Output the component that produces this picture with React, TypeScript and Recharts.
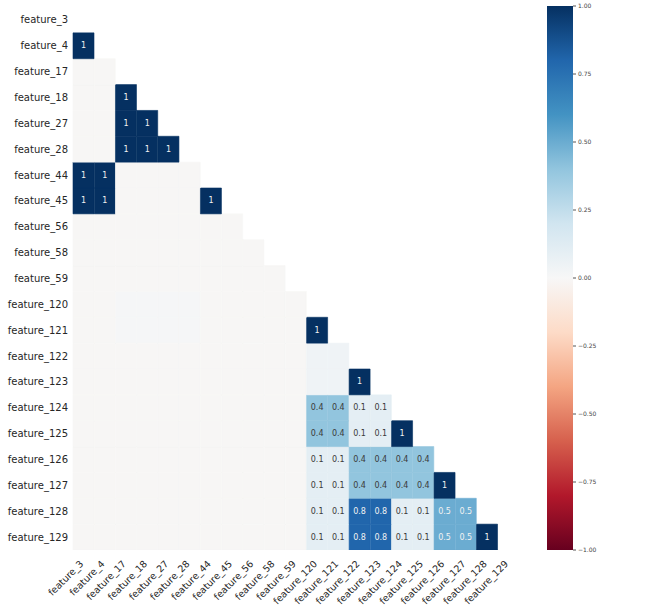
import { Bar, BarChart, Cell, LabelList, XAxis, YAxis } from "recharts";

const features = [
  "feature_3", "feature_4", "feature_17", "feature_18", "feature_27", "feature_28", "feature_44",
  "feature_45", "feature_56", "feature_58", "feature_59", "feature_120", "feature_121", "feature_122",
  "feature_123", "feature_124", "feature_125", "feature_126", "feature_127", "feature_128", "feature_129",
];

// lower triangle of the nullity correlation, row i holds columns 0..i-1
const z = -0.01;
const corrRows: number[][] = [
  [],
  [1],
  [z, z],
  [z, z, 1],
  [z, z, 1, 1],
  [z, z, 1, 1, 1],
  [1, 1, z, z, z, z],
  [1, 1, z, z, z, z, 1],
  [z, z, z, z, z, z, z, z],
  [z, z, z, z, z, z, z, z, z],
  [z, z, z, z, z, z, z, z, z, z],
  [z, z, 0.01, 0.01, 0.01, 0.01, z, z, z, z, z],
  [z, z, 0.01, 0.01, 0.01, 0.01, z, z, z, z, z, 1],
  [z, z, z, z, z, z, z, z, z, z, z, 0.04, 0.04],
  [z, z, z, z, z, z, z, z, z, z, z, 0.04, 0.04, 1],
  [z, z, z, z, z, z, z, z, z, z, z, 0.4, 0.4, 0.1, 0.1],
  [z, z, z, z, z, z, z, z, z, z, z, 0.4, 0.4, 0.1, 0.1, 1],
  [z, z, z, z, z, z, z, z, z, z, z, 0.1, 0.1, 0.4, 0.4, 0.4, 0.4],
  [z, z, z, z, z, z, z, z, z, z, z, 0.1, 0.1, 0.4, 0.4, 0.4, 0.4, 1],
  [z, z, z, z, z, z, z, z, z, z, z, 0.1, 0.1, 0.8, 0.8, 0.1, 0.1, 0.5, 0.5],
  [z, z, z, z, z, z, z, z, z, z, z, 0.1, 0.1, 0.8, 0.8, 0.1, 0.1, 0.5, 0.5, 1],
];

const colorbarTicks = [-1, -0.75, -0.5, -0.25, 0, 0.25, 0.5, 0.75, 1];

// RdBu stops from -1 to 1
const rdbu = [
  "#67001f", "#b2182b", "#d6604d", "#f4a582", "#fddbc7", "#f7f7f7",
  "#d1e5f0", "#92c5de", "#4393c3", "#2166ac", "#053061",
];

function hex(c: string) {
  return [1, 3, 5].map((k) => parseInt(c.slice(k, k + 2), 16));
}

function rdbuColor(v: number) {
  const t = ((Math.max(-1, Math.min(1, v ?? 0)) + 1) / 2) * (rdbu.length - 1);
  const i = Math.min(Math.floor(t), rdbu.length - 2);
  const f = t - i;
  const a = hex(rdbu[i]);
  const b = hex(rdbu[i + 1]);
  const m = a.map((x, k) => Math.round(x + (b[k] - x) * f));
  return `rgb(${m[0]},${m[1]},${m[2]})`;
}

function cellText(v: number) {
  if (v === 1) return "1";
  if (v === -1) return "-1";
  if (v >= 0.95 && v < 1) return "<1";
  if (v <= -0.95 && v > -1) return ">-1";
  if (Math.abs(v) < 0.05) return "";
  return v.toFixed(1);
}

const N = features.length;
// one entry per column; each row is a stacked segment of height 1
const data = features.map((name) => {
  const d: Record<string, number | string> = { name };
  features.forEach((_, i) => (d[`r${i}`] = 1));
  return d;
});
const yTicks = features.map((_, k) => k + 0.5);
const stackOrder = features.map((_, i) => N - 1 - i);

const labelFont = "DejaVu Sans, sans-serif";

function XTick(props: any) {
  const { x, y, payload } = props;
  const ax = x - 2;
  const ay = y + 4;
  return (
    <text
      x={ax}
      y={ay}
      transform={`rotate(-45 ${ax} ${ay})`}
      textAnchor="end"
      dominantBaseline="central"
      fontSize={9.5}
      fontFamily={labelFont}
      fill="#262626"
    >
      {payload.value}
    </text>
  );
}

function Colorbar() {
  return (
    <BarChart
      width={110}
      height={607}
      data={[{ name: "cb", range: [-1, 1] }]}
      margin={{ top: 6, right: 0, bottom: 57, left: 0 }}
      barCategoryGap={0}
    >
      <defs>
        <linearGradient id="rdbuGrad" x1="0" y1="0" x2="0" y2="1">
          {rdbu
            .slice()
            .reverse()
            .map((c, k) => (
              <stop key={k} offset={`${(k / (rdbu.length - 1)) * 100}%`} stopColor={c} />
            ))}
        </linearGradient>
      </defs>
      <XAxis dataKey="name" hide />
      <YAxis
        orientation="right"
        width={84}
        type="number"
        domain={[-1, 1]}
        ticks={colorbarTicks}
        interval={0}
        axisLine={false}
        tickLine={{ stroke: "#555" }}
        tickSize={3}
        tickMargin={2}
        tick={{ fontSize: 6, fill: "#444", fontFamily: labelFont }}
        tickFormatter={(v: number) => v.toFixed(2).replace("-", "\u2212")}
      />
      <Bar dataKey="range" fill="url(#rdbuGrad)" isAnimationActive={false} />
    </BarChart>
  );
}

export default function App() {
  return (
    <div style={{ position: "absolute", left: 0, top: 0, width: 672, height: 607, background: "#fff" }}>
      <div style={{ position: "absolute", left: 0, top: 0 }}>
        <BarChart
          width={672}
          height={607}
          data={data}
          margin={{ top: 7, right: 153, bottom: 0, left: 0 }}
          barCategoryGap={0}
        >
          <XAxis
            dataKey="name"
            interval={0}
            axisLine={false}
            tickLine={false}
            height={57}
            tick={<XTick />}
          />
          <YAxis
            type="number"
            width={73}
            domain={[0, N]}
            allowDataOverflow
            ticks={yTicks}
            interval={0}
            axisLine={false}
            tickLine={false}
            tickSize={0}
            tickMargin={5}
            tick={{ fontSize: 10, fill: "#262626", fontFamily: labelFont }}
            tickFormatter={(v: number) => features[N - 1 - Math.floor(v)]}
          />
          {stackOrder.map((i) => (
            <Bar key={i} dataKey={`r${i}`} stackId="m" isAnimationActive={false}>
              {features.map((_, j) => {
                const fill = j < i ? rdbuColor(corrRows[i][j]) : "transparent";
                return (
                  <Cell
                    key={j}
                    fill={fill}
                    stroke={j < i ? fill : "none"}
                    strokeWidth={0.6}
                  />
                );
              })}
              <LabelList
                dataKey={`r${i}`}
                content={(p: any) => {
                  const j = p.index;
                  if (j >= i) return null;
                  const v = corrRows[i][j];
                  const txt = cellText(v);
                  if (!txt) return null;
                  return (
                    <text
                      x={p.x + p.width / 2}
                      y={p.y + p.height / 2}
                      textAnchor="middle"
                      dominantBaseline="central"
                      fontSize={8}
                      fontFamily={labelFont}
                      fill={Math.abs(v) > 0.45 ? "#f2f2f2" : "#3a3a3a"}
                    >
                      {txt}
                    </text>
                  );
                }}
              />
            </Bar>
          ))}
        </BarChart>
      </div>
      <div style={{ position: "absolute", left: 547, top: 0 }}>
        <Colorbar />
      </div>
    </div>
  );
}
